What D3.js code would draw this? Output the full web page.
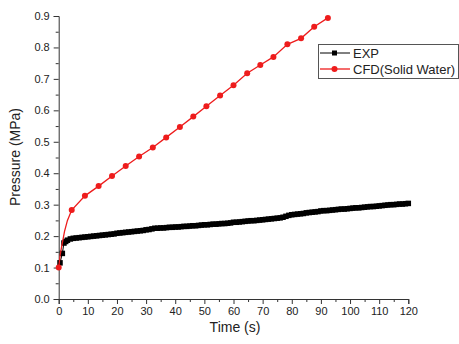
<!DOCTYPE html>
<html><head><meta charset="utf-8">
<script src="https://cdn.jsdelivr.net/npm/d3@7"></script>
<style>body{margin:0;background:#fff}svg{display:block;font-family:"Liberation Sans",Arial,sans-serif}</style>
</head><body><svg id="c" width="459" height="344"></svg>
<script>
const xTicks = [0,10,20,30,40,50,60,70,80,90,100,110,120];
const yTicks = [0,0.1,0.2,0.3,0.4,0.5,0.6,0.7,0.8,0.9];
const seriesNames = ["EXP", "CFD(Solid Water)"];

const expTime = [0.45,1.25,1.8,2.4,3,4,5,6,7,8,9,10,11,12,13,14,15,16,17,18,19,20,21,22,23,24,25,26,27,28,29,30,31,32,33,34,35,36,37,38,39,40,41,42,43,44,45,46,47,48,49,50,51,52,53,54,55,56,57,58,59,60,61,62,63,64,65,66,67,68,69,70,71,72,73,74,75,76,77,78,79,80,81,82,83,84,85,86,87,88,89,90,91,92,93,94,95,96,97,98,99,100,101,102,103,104,105,106,107,108,109,110,111,112,113,114,115,116,117,118,119,120];
const expPressure = [0.115,0.145,0.178,0.183,0.187,0.191,0.193,0.194,0.195,0.196,0.197,0.198,0.199,0.200,0.201,0.202,0.203,0.204,0.205,0.206,0.207,0.209,0.210,0.211,0.212,0.213,0.214,0.215,0.216,0.217,0.218,0.220,0.221,0.223,0.225,0.225,0.226,0.226,0.227,0.228,0.228,0.229,0.229,0.230,0.231,0.231,0.232,0.233,0.233,0.234,0.235,0.236,0.236,0.237,0.238,0.238,0.239,0.240,0.240,0.241,0.242,0.244,0.244,0.245,0.246,0.247,0.248,0.249,0.249,0.250,0.251,0.252,0.253,0.254,0.255,0.256,0.257,0.258,0.260,0.263,0.266,0.268,0.269,0.270,0.271,0.272,0.274,0.275,0.276,0.277,0.278,0.280,0.281,0.281,0.282,0.283,0.284,0.285,0.286,0.286,0.287,0.288,0.289,0.290,0.290,0.291,0.292,0.293,0.294,0.294,0.295,0.296,0.297,0.298,0.299,0.300,0.300,0.301,0.302,0.302,0.303,0.304];

const cfdTime = [0,0.5,1,2,3,4.47,9.0,13.7,18.3,23.0,27.6,32.3,36.9,41.6,46.2,50.7,55.4,60.0,64.7,69.2,73.7,78.5,83.2,87.7,92.4];
const cfdPressure = [0.100,0.140,0.166,0.215,0.250,0.283,0.328,0.359,0.391,0.423,0.453,0.482,0.514,0.547,0.580,0.613,0.647,0.680,0.718,0.744,0.770,0.810,0.829,0.866,0.894];
const cfdMarkerIdx = [0,5,6,7,8,9,10,11,12,13,14,15,16,17,18,19,20,21,22,23,24];

const svg = d3.select("#c");
const x = d3.scaleLinear().domain([0,120]).range([58.7,408.3]);
const y = d3.scaleLinear().domain([0,0.9]).range([299,16]);
const axisColor = "#333";
const red = "#ee1c1c";

// axes
svg.append("g").attr("transform","translate(0,299)")
  .call(d3.axisBottom(x).tickValues(xTicks).tickSize(5).tickPadding(3).tickFormat(d3.format("d")));
svg.append("g").attr("transform","translate(58.7,0)")
  .call(d3.axisLeft(y).tickValues(yTicks).tickSize(5).tickPadding(4).tickFormat(d3.format(".1f")));
// minor ticks
svg.append("g").attr("transform","translate(0,299)")
  .call(d3.axisBottom(x).tickValues(xTicks.slice(0,-1).map(d=>d+5)).tickSize(3).tickFormat(""))
  .select(".domain").remove();
svg.append("g").attr("transform","translate(58.7,0)")
  .call(d3.axisLeft(y).tickValues(yTicks.slice(0,-1).map(d=>d+0.05)).tickSize(3).tickFormat(""))
  .select(".domain").remove();
svg.selectAll(".domain, .tick line").attr("stroke",axisColor).attr("stroke-width",1);
svg.selectAll(".tick text").attr("fill","#222").style("font-size","11px").style("font-family","Liberation Sans, Arial, sans-serif");

// titles
svg.append("text").attr("x",235).attr("y",332).attr("text-anchor","middle")
  .style("font-size","14px").attr("fill","#222").text("Time (s)");
svg.append("text").attr("transform","translate(20,157) rotate(-90)").attr("text-anchor","middle")
  .style("font-size","14px").attr("fill","#222").text("Pressure (MPa)");

// EXP
const expData = expTime.map((t,i)=>[t,expPressure[i]]);
svg.append("path").datum(expData).attr("fill","none").attr("stroke","#000").attr("stroke-width",1)
  .attr("d", d3.line().x(d=>x(d[0])).y(d=>y(d[1])));
svg.append("g").selectAll("rect").data(expData).join("rect")
  .attr("x",d=>x(d[0])-2.75).attr("y",d=>y(d[1])-2.75).attr("width",5.5).attr("height",5.5).attr("fill","#000");

// CFD
const cfdData = cfdTime.map((t,i)=>[t,cfdPressure[i]]);
svg.append("path").datum(cfdData).attr("fill","none").attr("stroke",red).attr("stroke-width",1.3)
  .attr("d", d3.line().x(d=>x(d[0])).y(d=>y(d[1])));
svg.append("g").selectAll("circle").data(cfdMarkerIdx.map(i=>cfdData[i])).join("circle")
  .attr("cx",d=>x(d[0])).attr("cy",d=>y(d[1])).attr("r",3).attr("fill",red);

// legend
const lg = svg.append("g");
lg.append("rect").attr("x",318.5).attr("y",44.5).attr("width",140).attr("height",34)
  .attr("fill","#fff").attr("stroke","#555").attr("stroke-width",1);
lg.append("line").attr("x1",320).attr("x2",350).attr("y1",53).attr("y2",53).attr("stroke","#000").attr("stroke-width",1);
lg.append("rect").attr("x",332).attr("y",50.5).attr("width",5).attr("height",5).attr("fill","#000");
lg.append("line").attr("x1",320).attr("x2",350).attr("y1",69).attr("y2",69).attr("stroke",red).attr("stroke-width",1.3);
lg.append("circle").attr("cx",334.5).attr("cy",69).attr("r",3).attr("fill",red);
lg.selectAll("text.l").data(seriesNames).join("text").attr("class","l")
  .attr("x",353).attr("y",(d,i)=>53+i*16).attr("dy","0.35em")
  .style("font-size","13px").attr("fill","#222").text(d=>d);
</script></body></html>
